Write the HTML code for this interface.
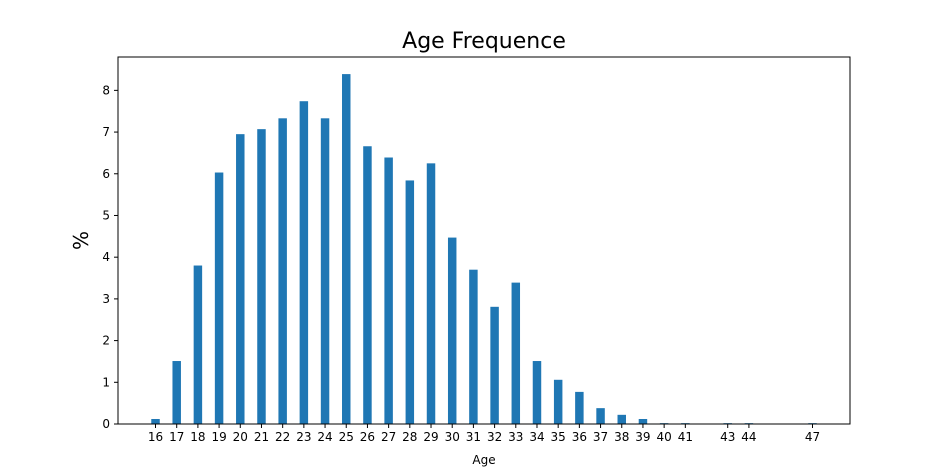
<!DOCTYPE html>
<html><head><meta charset="utf-8"><style>
body{margin:0;background:#fff;}
svg{display:block;font-family:"DejaVu Sans","Liberation Sans",sans-serif;}
</style></head><body>
<svg id="chart" width="944" height="476"></svg>
<script>
const ages = [16,17,18,19,20,21,22,23,24,25,26,27,28,29,30,31,32,33,34,35,36,37,38,39,40,41,43,44,47];
const percents = [0.12,1.51,3.8,6.03,6.95,7.07,7.33,7.74,7.33,8.39,6.66,6.39,5.84,6.25,4.47,3.7,2.81,3.39,1.51,1.06,0.77,0.38,0.22,0.12,0.02,0.02,0.02,0.02,0.02];
const yTicks = [0,1,2,3,4,5,6,7,8];

const L=118,R=850,T=57,B=424;
const xMin=14.23,xMax=48.77,yMin=0,yMax=8.8;
const xs=v=>L+(v-xMin)/(xMax-xMin)*(R-L);
const ys=v=>B-(v-yMin)/(yMax-yMin)*(B-T);
const NS="http://www.w3.org/2000/svg";
const svg=document.getElementById('chart');
function mk(tag,attrs,parent){const e=document.createElementNS(NS,tag);for(const k in attrs)e.setAttribute(k,attrs[k]);(parent||svg).appendChild(e);return e;}

const bars=mk('g',{});


ages.forEach((a,i)=>{
  const w=0.4/(xMax-xMin)*(R-L);
  const r=mk('rect',{x:xs(a)-w/2,y:ys(percents[i]),width:w,height:ys(0)-ys(percents[i]),fill:'#1f77b4'},bars);
  
  
});

const frame=mk('rect',{x:L,y:T,width:R-L,height:B-T,fill:'none',stroke:'#000','stroke-width':1});



const xa=mk('g',{});


ages.forEach(a=>{
  mk('line',{x1:xs(a),x2:xs(a),y1:B,y2:B+4,stroke:'#000'},xa);
  const t=mk('text',{x:xs(a),y:B+17,'text-anchor':'middle','font-size':12},xa);
  t.textContent=a;
  
  
});
const ya=mk('g',{});


yTicks.forEach(v=>{
  mk('line',{x1:L-4,x2:L,y1:ys(v),y2:ys(v),stroke:'#000'},ya);
  const t=mk('text',{x:L-8,y:ys(v)+4,'text-anchor':'end','font-size':12},ya);
  t.textContent=v;
  
  
});
const title=mk('text',{x:(L+R)/2,y:48,'text-anchor':'middle','font-size':22});
title.textContent='Age Frequence';


const xt=mk('text',{x:(L+R)/2,y:464,'text-anchor':'middle','font-size':12});
xt.textContent='Age';


const yt=mk('text',{x:88,y:(T+B)/2,'text-anchor':'middle','font-size':20,transform:'rotate(-90 88 '+((T+B)/2)+')'});
yt.textContent='%';


</script>
</body></html>
